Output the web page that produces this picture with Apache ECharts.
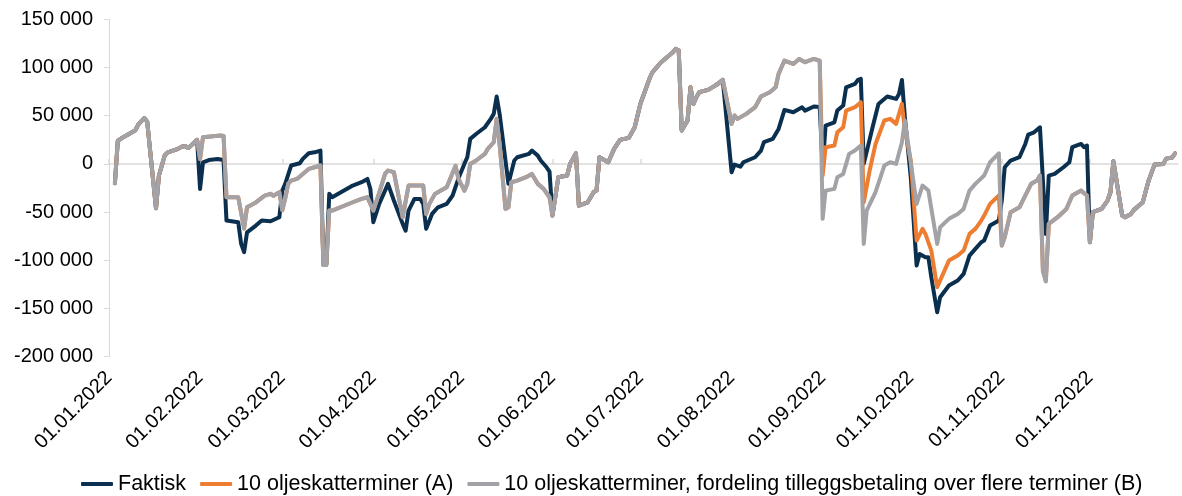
<!DOCTYPE html>
<html><head><meta charset="utf-8">
<script src="https://cdn.jsdelivr.net/npm/echarts@6/dist/echarts.min.js"></script>
<style>html,body{margin:0;padding:0;background:#fff}#c{width:1182px;height:496px}</style>
</head><body><div id="c"></div><script>
const YEAR = 2022;
const seriesNames = ['Faktisk', '10 oljeskatterminer (A)', '10 oljeskatterminer, fordeling tilleggsbetaling over flere terminer (B)'];
const yMin = -200000, yMax = 150000, yStep = 50000;

// Scenario B (grey) — full year
const scenarioB = [
 ['03.01',-20000],['04.01',24000],['06.01',28000],['10.01',35000],['11.01',41000],['13.01',47500],['14.01',44000],
 ['17.01',-46000],['18.01',-12000],['20.01',9000],['21.01',12000],['24.01',15000],['26.01',18000],['27.01',18500],
 ['28.01',16500],['30.01',22000],['31.01',25000],
 ['01.02',5000],['02.02',27700],['08.02',29400],['09.02',29000],['10.02',-34600],['14.02',-34600],['16.02',-67000],
 ['17.02',-45000],['20.02',-40000],['23.02',-33000],['25.02',-31000],['26.02',-33000],['28.02',-29400],
 ['01.03',-48000],['02.03',-36000],['03.03',-20700],['04.03',-17300],['06.03',-15600],['08.03',-10400],['10.03',-5200],
 ['12.03',-3500],['14.03',-1700],['15.03',-105000],['16.03',-105000],['17.03',-48400],['18.03',-48400],['25.03',-39800],
 ['28.03',-36300],['30.03',-34600],['31.03',-41500],
 ['01.04',-48400],['03.04',-30000],['05.04',-10400],['06.04',-6900],['08.04',-8600],['11.04',-55300],['13.04',-22500],
 ['18.04',-22500],['19.04',-51900],['20.04',-42000],['22.04',-31100],['24.04',-27700],['26.04',-24200],['29.04',-2000],
 ['30.04',-15600],
 ['02.05',-27700],['03.05',-20700],['04.05',0],['06.05',3500],['09.05',10400],['10.05',15600],['12.05',22500],
 ['13.05',46700],['14.05',20700],['16.05',-46700],['17.05',-45000],['18.05',-19000],['20.05',-17300],['23.05',-13800],
 ['25.05',-10400],['27.05',-20700],['29.05',-25900],['31.05',-34600],
 ['01.06',-53600],['03.06',-13800],['06.06',-12100],['07.06',0],['09.06',11000],['10.06',-43200],['13.06',-39800],
 ['15.06',-29400],['16.06',-27700],['17.06',6900],['20.06',1700],['22.06',15600],['24.06',24900],['27.06',27000],
 ['29.06',38000],
 ['01.07',62900],['04.07',88000],['05.07',95000],['08.07',105500],['12.07',115800],['13.07',119300],['14.07',117600],
 ['15.07',34600],['17.07',45000],['18.07',79500],['19.07',62200],['20.07',69200],['21.07',74400],['24.07',76800],
 ['27.07',82300],['29.07',87100],
 ['01.08',41500],['02.08',50200],['03.08',46700],['06.08',51900],['09.08',58800],['11.08',69900],['14.08',74400],
 ['16.08',79500],['17.08',93400],['19.08',107200],['22.08',103700],['24.08',108900],['26.08',105500],['29.08',108900],
 ['31.08',107000],
 ['01.09',-57000],['02.09',-27700],['05.09',-25900],['06.09',-13800],['08.09',-10400],['10.09',10400],['12.09',13800],
 ['14.09',19000],['15.09',-83000],['16.09',-48400],['19.09',-29400],['22.09',-1700],['24.09',1700],['26.09',0],
 ['28.09',22500],['29.09',45000],
 ['03.10',-41500],['05.10',-22500],['07.10',-27700],['10.10',-83000],['11.10',-65700],['14.10',-57000],['17.10',-51900],
 ['19.10',-46700],['21.10',-27700],['23.10',-20700],['26.10',-12100],['28.10',1700],['31.10',11000],
 ['01.11',-84700],['02.11',-76000],['04.11',-50100],['07.11',-45000],['09.11',-32800],['11.11',-20700],['13.11',-17300],
 ['14.11',-12100],['15.11',-110700],['16.11',-121700],['17.11',-62200],['20.11',-55300],['23.11',-46700],['25.11',-32800],
 ['28.11',-27700],['30.11',-32800],
 ['01.12',-81300],['02.12',-50100],['05.12',-46700],['07.12',-38000],['08.12',-29400],['09.12',2800],['12.12',-53600],
 ['13.12',-55300],['15.12',-51900],['16.12',-47700],['19.12',-39800],['21.12',-17300],['23.12',-700],['26.12',0],
 ['27.12',5500],['29.12',6600],['30.12',11000]
];

// Faktisk (navy) — points where it departs from B
const faktiskOwn = [
 ['01.02',-26000],['02.02',1700],['04.02',4000],['07.02',5000],['09.02',4000],['10.02',-58800],['14.02',-60500],
 ['15.02',-83000],['16.02',-91600],['17.02',-71000],['20.02',-64000],['22.02',-58800],['25.02',-59500],['28.02',-55300],
 ['01.03',-27700],['02.03',-20700],['04.03',-1700],['07.03',700],['08.03',5200],['10.03',11000],['12.03',12000],
 ['14.03',13800],['15.03',-104000],['16.03',-104000],['17.03',-31000],['18.03',-34600],['25.03',-22500],['28.03',-19000],
 ['30.03',-15600],['31.03',-26000],
 ['01.04',-60500],['03.04',-41500],['06.04',-20700],['08.04',-38000],['11.04',-62200],['12.04',-69200],['13.04',-48400],
 ['15.04',-36300],['17.04',-36300],['18.04',-41500],['19.04',-67400],['21.04',-51900],['23.04',-45000],['26.04',-41500],
 ['28.04',-32800],['30.04',-15000],
 ['02.05',0],['03.05',6900],['04.05',26000],['06.05',31000],['09.05',38000],['11.05',46700],['12.05',51900],
 ['13.05',69900],['14.05',51900],['17.05',-20700],['19.05',3500],['20.05',6900],['24.05',10400],['25.05',13800],
 ['27.05',8600],['28.05',3500],['30.05',-3500],['31.05',-8000],
 ['01.08',-8600],['02.08',-700],['04.08',-2800],['05.08',1700],['09.08',6900],['11.08',13800],['12.08',22500],
 ['15.08',25900],['17.08',36300],['19.08',56000],['22.08',53600],['25.08',58800],['26.08',55300],['29.08',59500],
 ['31.08',59000],
 ['01.09',-4000],['02.09',39800],['05.09',43200],['06.09',55300],['08.09',60500],['09.09',79500],['12.09',83000],
 ['13.09',87100],['14.09',88200],['15.09',0],['18.09',38000],['20.09',62200],['23.09',69900],['26.09',67400],
 ['27.09',72600],['28.09',87100],['29.09',48400],
 ['01.10',-13800],['03.10',-105500],['04.10',-93400],['06.10',-96800],['07.10',-96800],['08.10',-117600],
 ['10.10',-153900],['11.10',-138300],['14.10',-126200],['17.10',-121000],['19.10',-114100],['21.10',-95100],
 ['23.10',-88200],['25.10',-81300],['26.10',-79500],['28.10',-64000],['31.10',-58800],
 ['01.11',-38000],['02.11',-3500],['04.11',3500],['07.11',6900],['09.11',20700],['10.11',30400],['12.11',32800],
 ['14.11',38000],['16.11',-72600],['17.11',-12100],['19.11',-10400],['22.11',-3500],['24.11',1700],['25.11',17300],
 ['28.11',20700],['29.11',17300],['30.11',19000]
];
const faktiskSharedWithB = [['01.01','31.01'],['01.06','29.07'],['01.12','31.12']];

// Scenario A (orange) — points where it departs from B
const scenarioAOwn = [
 ['01.09',-12100],['02.09',17300],['05.09',19000],['06.09',32800],['08.09',38000],['09.09',55300],['12.09',58800],
 ['14.09',64000],['15.09',-39800],['17.09',-6900],['19.09',20700],['22.09',45000],['24.09',46700],['26.09',41500],
 ['28.09',62200],['29.09',35000],
 ['01.10',3500],['03.10',-79500],['05.10',-67400],['06.10',-72600],['08.10',-89900],['10.10',-128000],['12.10',-114100],
 ['14.10',-100300],['17.10',-95100],['19.10',-89900],['21.10',-72600],['23.10',-67400],['25.10',-58800],['26.10',-53600],
 ['28.10',-41500],['31.10',-32800]
];
const scenarioASharedWithB = [['01.01','31.08'],['01.11','31.12']];

// ---- build categories (every day of the year)
const categories = [];
for (let t = Date.UTC(YEAR,0,1); t <= Date.UTC(YEAR,11,31); t += 864e5) {
  const d = new Date(t);
  categories.push(String(d.getUTCDate()).padStart(2,'0') + '.' + String(d.getUTCMonth()+1).padStart(2,'0') + '.' + YEAR);
}
const idx = s => categories.indexOf(s + '.' + YEAR);
function build(own, shared, ranges) {
  const fromB = shared.filter(p => ranges.some(([a,b]) => idx(p[0]) >= idx(a) && idx(p[0]) <= idx(b)));
  return fromB.concat(own).map(p => [idx(p[0]), p[1]]).sort((a,b) => a[0]-b[0]);
}
const dataB = scenarioB.map(p => [idx(p[0]), p[1]]);
const dataF = build(faktiskOwn, scenarioB, faktiskSharedWithB);
const dataA = build(scenarioAOwn, scenarioB, scenarioASharedWithB);

const fmt = v => (v < 0 ? '-' : '') + String(Math.abs(v)).replace(/\B(?=(\d{3})+(?!\d))/g, ' ');
const isMonthStart = (i, v) => String(v).slice(0,3) === '01.';
const FONT = '"Liberation Sans", Arial, sans-serif';

const chart = echarts.init(document.getElementById('c'), null, {renderer:'canvas'});
const line = (name, data, color) => ({
  name, type:'line', data, xAxisIndex:0, showSymbol:false, symbol:'none',
  lineStyle:{color, width:4, join:'round', cap:'round'}, itemStyle:{color}, emphasis:{disabled:true}
});
chart.setOption({
  animation:false,
  textStyle:{fontFamily:FONT},
  grid:{left:109, right:4, top:19.3, bottom:139.3, containLabel:false},
  legend:{left:76, top:468, itemWidth:32, itemHeight:4, itemGap:14, icon:'roundRect',
    textStyle:{fontSize:21.5, color:'#000', fontFamily:FONT}, data:seriesNames},
  xAxis:[
    {type:'category', data:categories, boundaryGap:false, position:'bottom',
     axisLine:{show:false, onZero:false}, axisTick:{show:false}, splitLine:{show:false},
     axisLabel:{interval:isMonthStart, rotate:45, fontSize:20, color:'#000', margin:18, fontFamily:FONT}},
    {type:'category', data:categories, boundaryGap:false, position:'bottom',
     axisLine:{show:true, onZero:true, lineStyle:{color:'#d9d9d9', width:1.5}},
     axisTick:{show:true, inside:true, length:5, interval:isMonthStart, lineStyle:{color:'#d9d9d9', width:1.5}},
     axisLabel:{show:false}, splitLine:{show:false}}
  ],
  yAxis:{type:'value', min:yMin, max:yMax, interval:yStep, splitLine:{show:false},
    axisLine:{show:true, lineStyle:{color:'#d9d9d9', width:1}},
    axisTick:{show:true, length:5, lineStyle:{color:'#d9d9d9'}},
    axisLabel:{fontSize:20, color:'#000', margin:16, formatter:fmt, fontFamily:FONT}},
  series:[
    line(seriesNames[0], dataF, '#0b2f4e'),
    line(seriesNames[1], dataA, '#ed7d31'),
    line(seriesNames[2], dataB, '#a2a2a7')
  ]
});
</script></body></html>
